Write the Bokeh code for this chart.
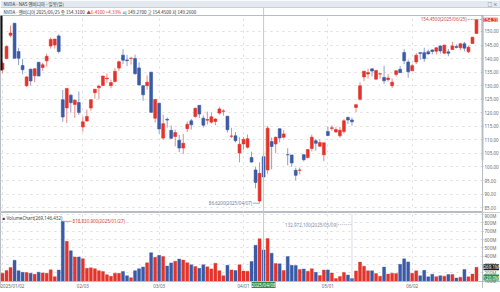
from bokeh.plotting import figure
from bokeh.models import (Range1d, FixedTicker, Span, Label, ColumnDataSource, Grid)
from bokeh.core.properties import value
from bokeh.layouts import column
from bokeh.embed import file_html
from bokeh.resources import INLINE

# ---------------- data (NVDA daily, 2025/01/02 - 2025/06/25) ----------------
dates = [
    "2025/01/02", "2025/01/03", "2025/01/06", "2025/01/07", "2025/01/08", "2025/01/10", "2025/01/13",
    "2025/01/14", "2025/01/15", "2025/01/16", "2025/01/17", "2025/01/21", "2025/01/22", "2025/01/23",
    "2025/01/24", "2025/01/27", "2025/01/28", "2025/01/29", "2025/01/30", "2025/01/31",
    "2025/02/03", "2025/02/04", "2025/02/05", "2025/02/06", "2025/02/07", "2025/02/10", "2025/02/11",
    "2025/02/12", "2025/02/13", "2025/02/14", "2025/02/18", "2025/02/19", "2025/02/20", "2025/02/21",
    "2025/02/24", "2025/02/25", "2025/02/26", "2025/02/27", "2025/02/28",
    "2025/03/03", "2025/03/04", "2025/03/05", "2025/03/06", "2025/03/07", "2025/03/10", "2025/03/11",
    "2025/03/12", "2025/03/13", "2025/03/14", "2025/03/17", "2025/03/18", "2025/03/19", "2025/03/20",
    "2025/03/21", "2025/03/24", "2025/03/25", "2025/03/26", "2025/03/27", "2025/03/28", "2025/03/31",
    "2025/04/01", "2025/04/02", "2025/04/03", "2025/04/04", "2025/04/07", "2025/04/08", "2025/04/09",
    "2025/04/10", "2025/04/11", "2025/04/14", "2025/04/15", "2025/04/16", "2025/04/17", "2025/04/21",
    "2025/04/22", "2025/04/23", "2025/04/24", "2025/04/25", "2025/04/28", "2025/04/29", "2025/04/30",
    "2025/05/01", "2025/05/02", "2025/05/05", "2025/05/06", "2025/05/07", "2025/05/08", "2025/05/09",
    "2025/05/12", "2025/05/13", "2025/05/14", "2025/05/15", "2025/05/16", "2025/05/19", "2025/05/20",
    "2025/05/21", "2025/05/22", "2025/05/23", "2025/05/27", "2025/05/28", "2025/05/29", "2025/05/30",
    "2025/06/02", "2025/06/03", "2025/06/04", "2025/06/05", "2025/06/06", "2025/06/09", "2025/06/10",
    "2025/06/11", "2025/06/12", "2025/06/13", "2025/06/16", "2025/06/17", "2025/06/18", "2025/06/20",
    "2025/06/23", "2025/06/24", "2025/06/25",
]
opens = [
    136.00, 140.01, 148.59, 153.03, 142.58, 137.45, 129.99, 136.05, 133.65, 138.64, 136.69, 139.16, 144.66, 145.05, 148.37, 124.80, 121.81, 126.50, 123.10, 123.78,
    114.75, 116.96, 121.76, 127.42, 129.22, 130.09, 132.58, 130.02, 131.56, 136.48, 141.27, 139.51, 140.03, 140.04, 136.56, 129.98, 129.99, 135.00, 118.02,
    123.51, 110.65, 117.58, 113.53, 111.25, 109.90, 106.99, 114.12, 117.03, 118.61, 122.74, 118.00, 117.27, 116.55, 116.76, 119.88, 120.55, 118.73, 111.35, 111.49, 105.13,
    108.52, 107.29, 103.51, 98.91, 87.46, 103.81, 98.89, 109.37, 108.50, 114.11, 110.97, 104.55, 104.45, 98.77, 98.78, 104.52, 103.48, 106.85, 109.69, 107.67, 104.47,
    113.08, 114.18, 112.91, 111.48, 113.05, 118.25, 117.35, 121.97, 124.98, 133.20, 134.30, 136.22, 132.39, 134.29, 133.06, 132.23, 130.00, 134.15, 136.03, 142.25, 138.72,
    135.49, 138.78, 142.19, 142.17, 142.51, 143.19, 142.69, 144.61, 141.97, 142.48, 143.35, 144.49, 144.01, 145.45, 142.50, 145.56, 149.27,
]
highs = [
    138.88, 144.90, 152.16, 153.13, 143.95, 139.92, 133.49, 136.38, 136.45, 138.75, 138.50, 141.83, 147.79, 147.23, 148.97, 128.40, 129.00, 126.89, 125.00, 127.85,
    118.57, 121.20, 125.00, 128.77, 130.37, 133.00, 134.48, 132.24, 136.50, 139.25, 143.44, 141.36, 140.67, 141.46, 138.59, 130.20, 133.73, 135.01, 125.09,
    123.70, 119.31, 118.28, 115.35, 113.80, 111.85, 112.23, 116.77, 117.76, 121.89, 122.75, 119.02, 120.45, 120.10, 117.99, 122.22, 121.29, 118.84, 114.45, 112.87, 110.96,
    111.02, 111.98, 105.63, 100.13, 101.75, 105.85, 115.10, 110.86, 111.28, 114.29, 113.62, 106.89, 104.47, 99.71, 99.81, 104.80, 106.59, 111.92, 110.37, 110.20, 108.92,
    114.94, 115.40, 114.67, 114.74, 117.68, 118.68, 118.23, 123.00, 131.22, 135.44, 136.30, 136.35, 135.87, 134.58, 137.40, 134.25, 132.68, 135.66, 137.25, 143.49, 139.62,
    138.12, 142.00, 142.39, 144.00, 143.27, 143.47, 144.29, 144.99, 145.00, 143.58, 146.18, 145.22, 145.65, 146.20, 144.78, 147.96, 154.45,
]
lows = [
    134.63, 139.73, 147.82, 140.01, 137.56, 134.22, 129.51, 130.05, 131.29, 133.49, 135.46, 137.09, 143.67, 143.72, 141.88, 116.70, 116.25, 120.05, 118.10, 119.19,
    113.01, 116.70, 120.76, 125.21, 125.00, 129.96, 131.02, 129.08, 131.17, 135.50, 137.93, 137.22, 137.78, 134.03, 130.08, 124.44, 128.49, 120.01, 116.40,
    112.28, 110.11, 114.51, 110.22, 107.59, 105.46, 104.77, 112.88, 113.79, 118.15, 118.10, 114.54, 115.63, 116.06, 115.40, 119.26, 118.93, 112.70, 110.66, 109.07, 101.69,
    106.42, 106.79, 101.60, 92.11, 86.62, 94.46, 97.53, 99.15, 105.10, 109.07, 110.50, 100.63, 100.05, 95.04, 97.28, 102.02, 103.11, 105.73, 106.02, 107.44, 102.16,
    111.30, 113.37, 112.66, 110.82, 112.28, 115.85, 115.21, 120.28, 124.47, 131.68, 132.66, 133.46, 132.39, 132.62, 130.59, 131.55, 129.16, 133.31, 134.79, 137.91, 132.92,
    135.40, 137.95, 139.55, 138.83, 141.51, 141.52, 141.53, 141.87, 141.85, 140.85, 143.20, 143.78, 143.12, 142.65, 142.03, 145.50, 149.26,
]
closes = [
    138.31, 144.47, 149.43, 140.14, 140.11, 135.91, 133.23, 131.76, 136.24, 133.57, 137.71, 140.83, 147.07, 147.22, 142.62, 118.42, 128.99, 123.70, 124.65, 120.07,
    116.66, 118.65, 124.83, 128.68, 129.84, 133.57, 132.80, 131.14, 135.29, 138.85, 139.40, 139.23, 140.11, 134.43, 130.28, 126.63, 131.28, 120.15, 124.92,
    114.06, 115.99, 117.30, 110.57, 112.69, 106.98, 108.76, 115.74, 115.58, 121.67, 119.53, 115.43, 117.52, 118.53, 117.70, 121.41, 120.69, 113.76, 111.43, 109.67, 108.38,
    110.15, 110.42, 101.80, 94.31, 97.64, 96.30, 114.33, 107.57, 110.93, 110.71, 112.20, 104.49, 101.49, 96.91, 98.89, 102.71, 106.43, 111.01, 108.73, 109.02, 108.92,
    111.61, 114.50, 113.82, 113.54, 117.06, 117.37, 116.65, 123.00, 129.93, 135.34, 134.83, 135.40, 135.57, 134.38, 131.80, 132.83, 131.29, 135.50, 134.81, 139.19, 135.13,
    137.38, 141.22, 141.92, 139.99, 141.72, 142.63, 143.96, 142.83, 145.00, 141.97, 144.69, 144.12, 145.48, 143.85, 144.17, 147.90, 154.31,
]
# volume in millions of shares
volumes = [
    198.2, 229.3, 265.4, 351.8, 227.3, 207.6, 204.8, 195.6, 185.2, 209.2, 201.2, 197.7, 237.7, 155.9, 234.7, 818.83, 579.7, 467.1, 392.0, 390.4,
    371.2, 256.6, 262.2, 251.5, 228.2, 216.9, 178.9, 160.3, 197.4, 195.5, 219.2, 167.5, 143.9, 228.2, 251.4, 271.4, 322.6, 443.2, 389.1,
    411.4, 398.2, 284.1, 321.2, 341.8, 366.5, 354.9, 323.9, 299.0, 277.6, 255.5, 299.7, 273.4, 248.8, 316.3, 228.0, 167.5, 293.5, 236.9, 229.9, 299.2,
    222.6, 220.6, 338.8, 532.3, 611.0, 476.2, 612.9, 437.8, 313.4, 309.4, 231.2, 397.2, 292.5, 288.5, 241.0, 247.5, 220.8, 251.1, 207.7, 170.4, 235.0,
    236.1, 198.4, 133.2, 158.5, 206.8, 175.0, 132.97, 225.0, 330.3, 281.9, 226.6, 226.5, 193.2, 161.5, 270.6, 187.3, 197.8, 192.9, 304.0, 369.2, 333.2,
    197.7, 225.6, 167.1, 231.4, 153.9, 185.1, 155.9, 167.7, 162.4, 180.8, 183.1, 139.1, 150.0, 242.9, 154.3, 187.6, 269.1,
]
price_ticks = [85, 90, 95, 100, 105, 110, 115, 120, 125, 130, 135, 140, 145, 150]
volume_ticks = [100, 200, 300, 400, 500, 600, 700, 800, 900]
volume_tick_labels = ["100M", "200M", "300M", "400M", "500M", "600M", "700M", "800M", "900M"]
crosshair_date = "2025/04/08"
crosshair_value_text = "120.0M"
header_title = "NVDA - NAS 엔비디아 - 일봉(일)"
header_quote = ["NVDA - 엔비디아 2025/06/25 종 154.3100", "▲6.4100 +4.33%", "시 149.2700 고 154.4500 저 149.2600"]
max_price_text = "154.4500(2025/06/25)"
min_price_text = "86.6200(2025/04/07)"
max_volume_text = "818,830,900(2025/01/27)"
min_volume_text = "132,972,100(2025/05/09)"
volume_title = "VolumeChart(269,146,432)"

# ---------------- derived ----------------
UP, DOWN = "#e3342b", "#3a5aa6"
UPW, DOWNW = "#eb8a84", "#8ea0cc"
n = len(dates)
idx = list(range(n))
up = [c >= o for o, c in zip(opens, closes)]
src = ColumnDataSource(dict(
    x=idx, o=opens, h=highs, l=lows, c=closes,
    top=[max(o, c) for o, c in zip(opens, closes)],
    bot=[min(o, c) for o, c in zip(opens, closes)],
    col=[UP if u else DOWN for u in up],
    wick=[UPW if u else DOWNW for u in up],
    vol=volumes,
))
month_idx = [i for i in idx if i == 0 or dates[i][5:7] != dates[i - 1][5:7]]
month_labels = {i: (dates[i] if i == 0 else dates[i][5:]) for i in month_idx}

FONT = "Noto Sans"
KFONT = "Noto Sans CJK KR"
FS = "4.5px"
W = 500            # whole frame width (candles + axis strip)
PW = 482           # width of the candle area
GRID = "#dcdcdc"
FRAME = "#b8bcc4"
XHAIR = "#a9d9b6"
GREENBOX = "#2f8f45"
x0 = -0.5
xa_edge = n + 0.5                         # where the candle area ends / y axes sit
x_end = x0 + W * (n + 1) / PW
xr = Range1d(x0, x_end)
ci = dates.index(crosshair_date)

# price panel vertical range
P_LO, P_HI = 83.2, 155.9
# volume panel: bar area floor/ceiling plus a strip below for the date axis
V_FLOOR, V_TOP = 98, 913
V_PX = (V_TOP - V_FLOOR) / 68.0
V_LO, V_HI = V_FLOOR - 7 * V_PX, V_TOP + 1 * V_PX


def bare(fig):
    fig.xgrid.visible = False
    fig.ygrid.visible = False
    return fig


def style_axis(ax):
    ax.major_label_text_font = FONT
    ax.major_label_text_font_size = FS
    ax.major_label_text_color = "#666666"
    ax.major_label_standoff = 1
    ax.major_tick_out = 1
    ax.major_tick_in = 0
    ax.minor_tick_out = 0
    ax.minor_tick_in = 0
    ax.axis_line_color = FRAME
    ax.major_tick_line_color = FRAME


# ---------------- header strip ----------------
hf = bare(figure(frame_width=W, frame_height=15, x_range=Range1d(0, W), y_range=Range1d(15, 0),
                 output_backend="svg", toolbar_location=None, x_axis_location=None, y_axis_location=None,
                 min_border=0, outline_line_color=None))
hf.quad(left=[0], right=[W], top=[0], bottom=[7], fill_color="#e4e9f0", line_color=None)
hf.segment([0], [7], [W], [7], line_color="#c9d0da", line_width=1)
xh = (ci - x0) * PW / (n + 1)
hf.segment([xh], [7.5], [xh], [15], line_color=XHAIR, line_width=1)
hf.text(x=[3], y=[3.6], text=[header_title], text_baseline="middle", text_font=value(KFONT),
        text_font_size=FS, text_color="#333333")
hf.text(x=[497], y=[3.6], text=["□ ×"], text_align="right", text_baseline="middle",
        text_font=value(KFONT), text_font_size=FS, text_color="#555555")
hf.text(x=[3], y=[11], text=[header_quote[0]], text_baseline="middle", text_font=value(KFONT),
        text_font_size=FS, text_color="#333333")
hf.text(x=[86], y=[11], text=[header_quote[1]], text_baseline="middle", text_font=value(KFONT),
        text_font_size=FS, text_color=UP)
hf.text(x=[122], y=[11], text=[header_quote[2]], text_baseline="middle", text_font=value(KFONT),
        text_font_size=FS, text_color="#333333")

# ---------------- price panel ----------------
p = figure(frame_width=W, frame_height=197, x_range=xr, y_range=Range1d(P_LO, P_HI),
           output_backend="svg", toolbar_location=None, x_axis_location=None,
           y_axis_location="right", min_border=0, outline_line_color=FRAME)
p.xgrid.visible = False
p.add_layout(Grid(dimension=0, ticker=FixedTicker(ticks=month_idx),
                  grid_line_color=GRID, grid_line_dash="dotted"))
p.ygrid.ticker = FixedTicker(ticks=price_ticks)
p.ygrid.grid_line_color = GRID
p.ygrid.grid_line_dash = "dotted"
ya = p.yaxis[0]
ya.ticker = FixedTicker(ticks=price_ticks)
ya.major_label_overrides = {t: f"{t:.2f}" for t in price_ticks}
ya.fixed_location = xa_edge
style_axis(ya)

# white strip behind the price scale (hides grid there)
p.quad(left=[xa_edge], right=[x_end], bottom=[P_LO], top=[P_HI], fill_color="white", line_color=None)
p.add_layout(Span(location=ci, dimension="height", line_color=XHAIR, line_width=1))
p.segment("x", "h", "x", "l", source=src, line_color="wick", line_width=1)
p.vbar("x", 0.72, "top", "bot", source=src, fill_color="col", line_color="col", line_width=0.6)

# scale highlight strips and left marker
p.segment([xa_edge, xa_edge], [P_HI, 124.6], [xa_edge, xa_edge], [124.6, 102.5],
          line_color=[UP, "#7f95c8"], line_width=1.6)
p.segment([x0], [P_HI], [x0], [135.6], line_color="#111111", line_width=4)

# max / min price annotations
imax = max(idx, key=lambda i: highs[i])
imin = min(idx, key=lambda i: lows[i])
p.segment([imax - 2.2], [highs[imax]], [xa_edge], [highs[imax]], line_color="#e07a6e",
          line_dash="2 1", line_width=0.8)
p.add_layout(Label(x=imax - 2.2, y=highs[imax], text=max_price_text,
                   x_offset=-1, text_align="right", text_baseline="middle",
                   text_font=FONT, text_font_size=FS, text_color="#d0463c"))
p.segment([imin - 1.6], [lows[imin]], [imin], [lows[imin]], line_color="#8a96ad", line_width=0.8)
p.add_layout(Label(x=imin - 1.6, y=lows[imin], text=min_price_text,
                   x_offset=-1, text_align="right", text_baseline="middle",
                   text_font=FONT, text_font_size=FS, text_color="#6f7c96"))
# current price box on the scale
p.add_layout(Label(x=xa_edge, y=closes[-1], x_offset=1, text=f"{closes[-1]:.2f}",
                   text_baseline="middle", text_font=FONT, text_font_size=FS,
                   text_color="white", background_fill_color=UP, level="overlay"))

# ---------------- volume panel ----------------
v = figure(frame_width=W, frame_height=76, x_range=xr, y_range=Range1d(V_LO, V_HI),
           output_backend="svg", toolbar_location=None, y_axis_location="right",
           min_border=0, outline_line_color=FRAME)
v.xgrid.ticker = FixedTicker(ticks=month_idx)
v.xgrid.grid_line_color = GRID
v.xgrid.grid_line_dash = "dotted"
v.ygrid.ticker = FixedTicker(ticks=volume_ticks)
v.ygrid.grid_line_color = GRID
v.ygrid.grid_line_dash = "dotted"
xa = v.xaxis[0]
xa.ticker = FixedTicker(ticks=month_idx)
xa.major_label_overrides = month_labels
xa.major_label_text_align = "left"
xa.fixed_location = V_FLOOR
style_axis(xa)
xa.major_label_standoff = 0
vy = v.yaxis[0]
vy.ticker = FixedTicker(ticks=volume_ticks)
vy.major_label_overrides = dict(zip(volume_ticks, volume_tick_labels))
vy.fixed_location = xa_edge
style_axis(vy)

v.vbar("x", 0.75, "vol", 0, source=src, fill_color="col", line_color="col", line_width=0.4)
# white strips: under the date scale and behind the volume scale
v.quad(left=[x0, xa_edge], right=[x_end, x_end], bottom=[V_LO, V_LO], top=[V_FLOOR, V_HI],
       fill_color="white", line_color=None)
v.add_layout(Span(location=ci, dimension="height", line_color=XHAIR, line_width=1))

vmax = max(idx, key=lambda i: volumes[i])
vmin = min(idx, key=lambda i: volumes[i])
v.segment([vmax], [volumes[vmax]], [vmax + 2.2], [volumes[vmax]], line_color="#e07a6e", line_width=0.8)
v.add_layout(Label(x=vmax + 2.2, y=volumes[vmax], text=max_volume_text,
                   x_offset=1, text_baseline="middle", text_font=FONT,
                   text_font_size=FS, text_color="#d0463c"))
v.segment([vmin, vmin - 3.4], [V_FLOOR, 780], [vmin, vmin], [V_TOP, 780], line_color="#9aa6bb",
          line_dash="1 1", line_width=0.8)
v.add_layout(Label(x=vmin - 3.4, y=780, text=min_volume_text,
                   x_offset=-1, text_align="right", text_baseline="middle", text_font=FONT,
                   text_font_size=FS, text_color="#7f8ca4"))
v.add_layout(Label(x=x0, y=V_TOP, x_offset=2, y_offset=-1, text="■ " + volume_title,
                   text_baseline="top", text_font=FONT, text_font_size=FS, text_color="#444444"))
# value boxes on the scale and date box on the time axis
v.add_layout(Label(x=xa_edge, y=volumes[-1], x_offset=1, text=f"{volumes[-1]:.1f}M",
                   text_baseline="middle", text_font=FONT, text_font_size=FS,
                   text_color="white", background_fill_color="#222222", level="overlay"))
v.add_layout(Label(x=xa_edge, y=V_FLOOR, x_offset=1, y_offset=1, text=crosshair_value_text,
                   text_baseline="bottom", text_font=FONT, text_font_size=FS,
                   text_color="white", background_fill_color=GREENBOX, level="overlay"))
v.add_layout(Label(x=ci, y=V_FLOOR, y_offset=-0.5, text=crosshair_date, text_align="center",
                   text_baseline="top", text_font=FONT, text_font_size=FS,
                   text_color="white", background_fill_color=GREENBOX, level="overlay"))

# ---------------- footer scroll strip ----------------
ff = bare(figure(frame_width=W, frame_height=4, x_range=Range1d(0, W), y_range=Range1d(0, 4),
                 output_backend="svg", toolbar_location=None, x_axis_location=None, y_axis_location=None,
                 min_border=0, outline_line_color=None, background_fill_color="#e9ecf0"))
ff.quad(left=[345, 430], right=[425, 498], top=[3.5, 4], bottom=[0.5, 0],
        fill_color=["#c3ccd8", "#d6dbe2"], line_color=None)

layout = column(hf, p, v, ff, spacing=0)
open("out.html", "w").write(file_html(layout, INLINE))
